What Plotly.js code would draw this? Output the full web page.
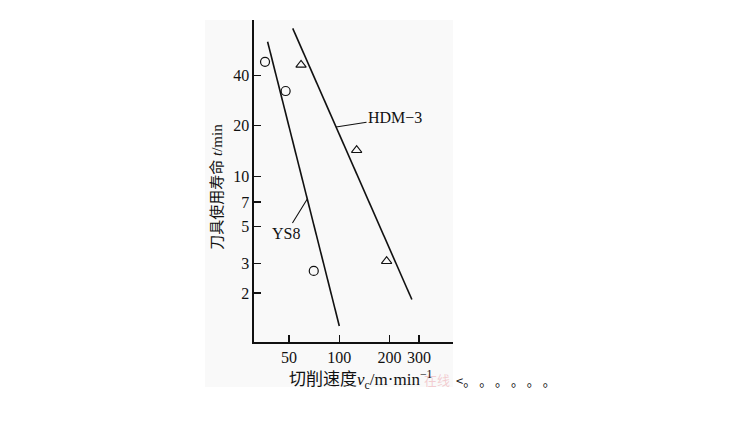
<!DOCTYPE html>
<html>
<head>
<meta charset="utf-8">
<script src="https://cdn.plot.ly/plotly-3.0.1.min.js"></script>
<style>
  html, body { margin: 0; padding: 0; background: #ffffff; }
  #chart { width: 730px; height: 426px; }
</style>
</head>
<body>
<div id="chart"></div>
<script>
// Tool life vs. cutting speed (log-log), two tool materials
const ys8Speed = [35.9, 47.7, 70.3];        // m/min, measured points (circles)
const ys8Life = [48.3, 32.3, 2.71];          // min
const hdmSpeed = [59, 127, 192];             // m/min, measured points (triangles)
const hdmLife = [46.3, 14.3, 3.1];           // min

// Fitted straight lines (end points)
const ys8FitSpeed = [37.2, 100];
const ys8FitLife = [63.7, 1.27];
const hdmFitSpeed = [52.6, 272];
const hdmFitLife = [76.6, 1.83];

const xTicks = [50, 100, 200, 300];
const yTicks = [2, 3, 5, 7, 10, 20, 40];

const serif = "Liberation Serif, 'Noto Sans CJK SC', serif";
const cjk = "'Liberation Serif', 'Noto Sans CJK SC', sans-serif";

// point on a fitted line (log-log interpolation) at a given tool life
function onLine(sx, ty, life) {
  const lx0 = Math.log10(sx[0]), lx1 = Math.log10(sx[1]);
  const ly0 = Math.log10(ty[0]), ly1 = Math.log10(ty[1]);
  const f = (Math.log10(life) - ly0) / (ly1 - ly0);
  return [Math.pow(10, lx0 + f * (lx1 - lx0)), life];
}
const hdmPtr = onLine(hdmFitSpeed, hdmFitLife, 19.7);
const ys8Ptr = onLine(ys8FitSpeed, ys8FitLife, 7.3);

const traces = [
  { x: ys8FitSpeed, y: ys8FitLife, mode: 'lines', line: { color: '#111', width: 1.6 }, hoverinfo: 'skip' },
  { x: hdmFitSpeed, y: hdmFitLife, mode: 'lines', line: { color: '#111', width: 1.6 }, hoverinfo: 'skip' },
  { x: ys8Speed, y: ys8Life, mode: 'markers',
    marker: { symbol: 'circle-open', size: 9, color: '#111', line: { width: 1.2 } } },
  { x: hdmSpeed, y: hdmLife, mode: 'markers',
    marker: { symbol: 'triangle-up-open', size: 9, color: '#111', line: { width: 1.1 } } }
];

const layout = {
  width: 730, height: 426,
  margin: { l: 254, r: 277, t: 20, b: 84 },
  paper_bgcolor: '#ffffff',
  plot_bgcolor: 'rgba(0,0,0,0)',
  showlegend: false,
  font: { family: serif, color: '#111', size: 15 },
  xaxis: {
    type: 'log', range: [1.489, 2.681],
    tickvals: xTicks, ticktext: xTicks.map(String),
    ticks: 'inside', ticklen: 7, tickwidth: 1.2, tickcolor: '#111',
    showline: true, linecolor: '#111', linewidth: 1.6,
    showgrid: false, zeroline: false,
    tickfont: { family: serif, size: 16, color: '#111' }
  },
  yaxis: {
    type: 'log', range: [0.008, 1.934],
    tickvals: yTicks, ticktext: yTicks.map(String),
    ticks: 'inside', ticklen: 7, tickwidth: 1.2, tickcolor: '#111',
    showline: true, linecolor: '#111', linewidth: 1.6,
    showgrid: false, zeroline: false,
    tickfont: { family: serif, size: 16, color: '#111' }
  },
  shapes: [
    { type: 'rect', xref: 'paper', yref: 'paper', layer: 'below',
      x0: -0.246, x1: 1.0, y0: -0.14, y1: 1.0,
      fillcolor: '#f9f9f9', line: { width: 0 } }
  ],
  annotations: [
    { x: Math.log10(hdmPtr[0]), y: Math.log10(hdmPtr[1]), xref: 'x', yref: 'y',
      text: 'HDM−3', showarrow: true, arrowhead: 0, arrowwidth: 1.1, arrowcolor: '#111',
      ax: 59, ay: -9, font: { family: serif, size: 16, color: '#111' } },
    { x: Math.log10(ys8Ptr[0]), y: Math.log10(ys8Ptr[1]), xref: 'x', yref: 'y',
      text: 'YS8', showarrow: true, arrowhead: 0, arrowwidth: 1.1, arrowcolor: '#111',
      ax: -21, ay: 34, font: { family: serif, size: 16, color: '#111' } },
    { xref: 'paper', yref: 'paper', x: -0.186, y: 0.482, textangle: -90,
      xanchor: 'center', yanchor: 'middle', showarrow: false,
      text: '刀具使用寿命 <i>t</i>/min', font: { family: cjk, size: 15, color: '#111' } },
    { xref: 'paper', yref: 'paper', x: 0.995, y: -0.118,
      xanchor: 'right', yanchor: 'middle', showarrow: false,
      text: '在线', font: { family: "'Noto Sans CJK SC', sans-serif", size: 13, color: 'rgba(230,120,130,0.35)' } },
    { xref: 'paper', yref: 'paper', x: 0.166, y: -0.118,
      xanchor: 'left', yanchor: 'middle', showarrow: false,
      text: '切削速度<i>v</i><sub>c</sub>/m·min<sup>−1</sup>', font: { family: cjk, size: 17, color: '#111' } },
    { xref: 'paper', yref: 'paper', x: 1.005, y: -0.12,
      xanchor: 'left', yanchor: 'middle', showarrow: false,
      text: '<。 。 。 。 。 。', font: { family: "'Noto Sans CJK SC', sans-serif", size: 13, color: '#111' } }
  ]
};

Plotly.newPlot('chart', traces, layout, { displayModeBar: false, staticPlot: true });
</script>
</body>
</html>
